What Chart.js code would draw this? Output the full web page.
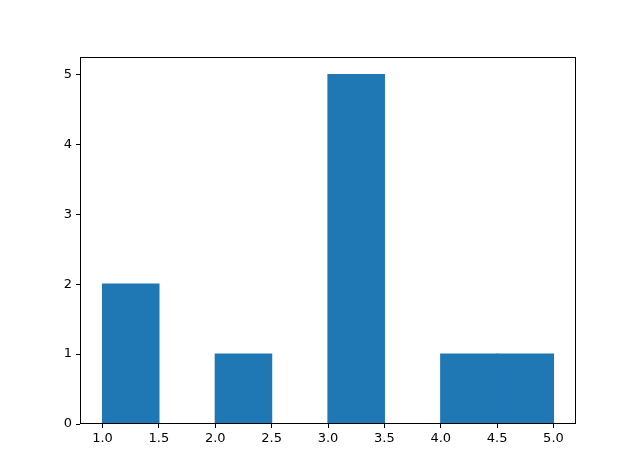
<!DOCTYPE html>
<html>
<head>
<meta charset="utf-8">
<script src="https://cdn.jsdelivr.net/npm/chart.js@4"></script>
<style>
  html, body { margin: 0; padding: 0; background: #fff; }
  #wrap { width: 640px; height: 476px; }
</style>
</head>
<body>
<div id="wrap"><canvas id="c" width="640" height="476"></canvas></div>
<script>
const binCenters = [1.25, 1.75, 2.25, 2.75, 3.25, 3.75, 4.25, 4.75];
const counts = [2, 0, 1, 0, 5, 0, 1, 1];
const xTicks = [1.0, 1.5, 2.0, 2.5, 3.0, 3.5, 4.0, 4.5, 5.0];
const yTicks = [0, 1, 2, 3, 4, 5];

const frame = {
  id: 'frame',
  afterDatasetsDraw(chart) {
    const a = chart.chartArea, ctx = chart.ctx;
    ctx.save();
    ctx.strokeStyle = '#000';
    ctx.lineWidth = 1;
    ctx.strokeRect(Math.round(a.left) + 0.5, Math.round(a.top) + 0.5,
                   Math.round(a.right - a.left) - 1, Math.round(a.bottom - a.top) - 1);
    ctx.restore();
  }
};

new Chart(document.getElementById('c'), {
  type: 'bar',
  data: {
    datasets: [{
      data: binCenters.map((x, i) => ({ x: x, y: counts[i] })),
      backgroundColor: '#1f77b4',
      borderWidth: 0,
      inflateAmount: 0.6,
      barPercentage: 1.0,
      categoryPercentage: 1.0
    }]
  },
  options: {
    responsive: false,
    animation: false,
    devicePixelRatio: 1,
    layout: { padding: { left: 0, right: 64, top: 57, bottom: 0 } },
    plugins: { legend: { display: false }, tooltip: { enabled: false } },
    scales: {
      x: {
        type: 'linear',
        offset: false,
        min: 0.8, max: 5.2,
        afterBuildTicks: (s) => { s.ticks = xTicks.map(v => ({ value: v })); },
        afterFit: (s) => { s.height = 52; },
        grid: { display: true, offset: false, drawOnChartArea: false, drawTicks: true, tickLength: 4, tickColor: '#000', tickWidth: 1 },
        border: { display: false },
        ticks: {
          color: '#000',
          font: { family: 'DejaVu Sans', size: 13 },
          padding: 3,
          maxRotation: 0,
          autoSkip: false,
          callback: (v) => Number(v).toFixed(1)
        }
      },
      y: {
        min: 0, max: 5.25,
        afterBuildTicks: (s) => { s.ticks = yTicks.map(v => ({ value: v })); },
        afterFit: (s) => { s.width = 80; },
        grid: { display: true, offset: false, drawOnChartArea: false, drawTicks: true, tickLength: 4, tickColor: '#000', tickWidth: 1 },
        border: { display: false },
        ticks: {
          color: '#000',
          font: { family: 'DejaVu Sans', size: 13 },
          padding: 4,
          autoSkip: false,
          callback: (v) => String(v)
        }
      }
    }
  },
  plugins: [frame]
});
</script>
</body>
</html>
